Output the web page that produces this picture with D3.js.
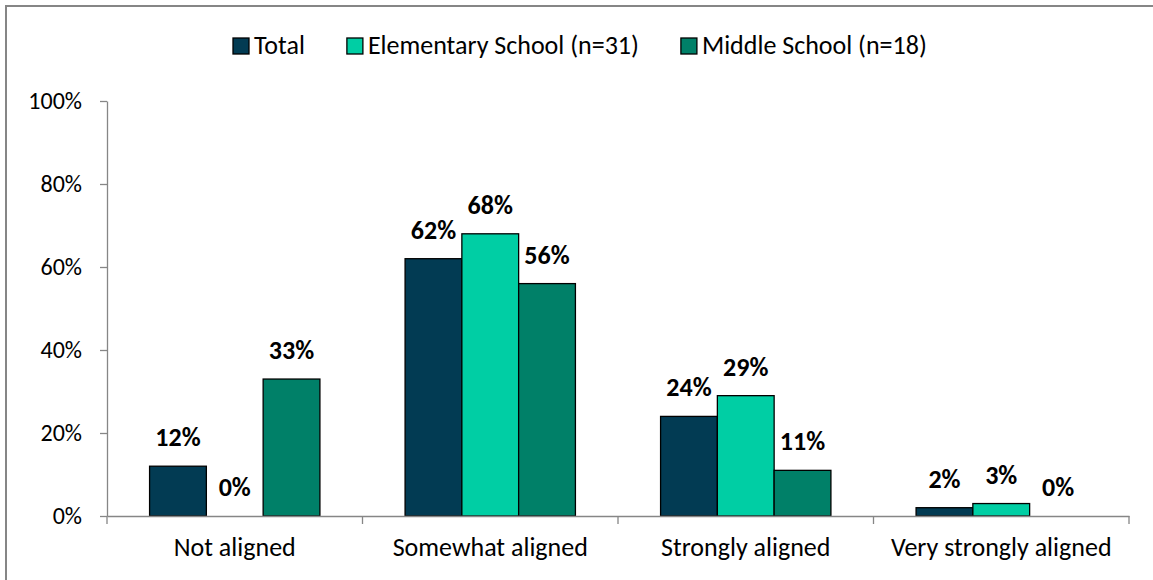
<!DOCTYPE html>
<html>
<head>
<meta charset="utf-8">
<script src="https://cdn.jsdelivr.net/npm/d3@7"></script>
<style>
  html, body { margin: 0; padding: 0; background: #fff; }
  svg { display: block; }
  text { font-family: Carlito, Calibri, Lato, "Open Sans", sans-serif; fill: #000; }
</style>
</head>
<body>
<svg id="chart" width="1153" height="580"></svg>
<script>
const categories = ["Not aligned", "Somewhat aligned", "Strongly aligned", "Very strongly aligned"];
const seriesNames = ["Total", "Elementary School (n=31)", "Middle School (n=18)"];
const totalValues = [12, 62, 24, 2];
const elementaryValues = [0, 68, 29, 3];
const middleValues = [33, 56, 11, 0];
const yTicks = [0, 20, 40, 60, 80, 100];
const seriesColors = ["#023B53", "#00CEA4", "#008068"];

const seriesValues = [totalValues, elementaryValues, middleValues];
const FONT = "Carlito, Calibri, Lato, sans-serif";

const svg = d3.select("#chart");
const W = 1153, H = 580;
const margin = { left: 107, right: 24, top: 101, bottom: 64 };
const plotW = W - margin.left - margin.right; // 1022
const plotH = H - margin.top - margin.bottom; // 415

// outer frame (only top/left visible)
svg.append("rect")
  .attr("x", 6).attr("y", 6)
  .attr("width", W + 20).attr("height", H + 20)
  .attr("fill", "none").attr("stroke", "#868686").attr("stroke-width", 2);

const g = svg.append("g").attr("transform", `translate(${margin.left},${margin.top})`);

const x0 = d3.scaleBand().domain(categories).range([0, plotW]).paddingInner(0).paddingOuter(0);
const bw = x0.bandwidth();
const x1 = d3.scaleBand().domain(seriesNames).range([bw * 0.75 / 4.5, bw - bw * 0.75 / 4.5]).padding(0);
const y = d3.scaleLinear().domain([0, 100]).range([plotH, 0]);

// y axis
const yAxis = d3.axisLeft(y).tickValues(yTicks).tickFormat(d => d + "%").tickSize(7).tickSizeOuter(0).tickPadding(18);
const yg = g.append("g").call(yAxis);
yg.select(".domain").attr("stroke", "#868686").attr("stroke-width", 1.3);
yg.selectAll(".tick line").attr("stroke", "#868686").attr("stroke-width", 1.3);
yg.selectAll(".tick text").style("font-size", "24px").style("font-family", FONT).attr("fill", "#000");

// bars
seriesNames.forEach((s, si) => {
  g.append("g").selectAll("rect")
    .data(categories.map((c, ci) => ({ c, v: seriesValues[si][ci] })))
    .join("rect")
    .attr("x", d => x0(d.c) + x1(s))
    .attr("y", d => y(d.v))
    .attr("width", x1.bandwidth())
    .attr("height", d => plotH - y(d.v))
    .attr("fill", seriesColors[si])
    .attr("stroke", d => d.v > 0 ? "#000" : "none")
    .attr("stroke-width", 1.3);
});

// x axis
const xAxis = d3.axisBottom(x0).tickSize(0).tickPadding(22);
const xg = g.append("g").attr("transform", `translate(0,${plotH})`).call(xAxis);
xg.select(".domain").attr("stroke", "#868686").attr("stroke-width", 1.3);
xg.selectAll(".tick text").style("font-size", "26px").style("font-family", FONT).attr("fill", "#000");
// category boundary ticks
const boundaries = categories.map(c => x0(c)).concat([plotW]);
g.append("g").selectAll("line").data(boundaries).join("line")
  .attr("x1", d => d).attr("x2", d => d)
  .attr("y1", plotH).attr("y2", plotH + 8)
  .attr("stroke", "#868686").attr("stroke-width", 1.3);

// data labels
seriesNames.forEach((s, si) => {
  g.append("g").selectAll("text")
    .data(categories.map((c, ci) => ({ c, v: seriesValues[si][ci] })))
    .join("text")
    .attr("x", d => x0(d.c) + x1(s) + x1.bandwidth() / 2)
    .attr("y", d => y(d.v) - 20)
    .attr("text-anchor", "middle")
    .style("font-size", "26px")
    .style("font-weight", "bold")
    .text(d => d.v + "%");
});

// legend
const lg = svg.append("g");
let lx = 233;
seriesNames.forEach((s, si) => {
  lg.append("rect")
    .attr("x", lx).attr("y", 38)
    .attr("width", 16).attr("height", 16)
    .attr("fill", seriesColors[si]).attr("stroke", "#000").attr("stroke-width", 1.3);
  const t = lg.append("text")
    .attr("x", lx + 21).attr("y", 54)
    .style("font-size", "26px")
    .text(s);
  lx = lx + 21 + t.node().getComputedTextLength() + 42;
});
</script>
</body>
</html>
